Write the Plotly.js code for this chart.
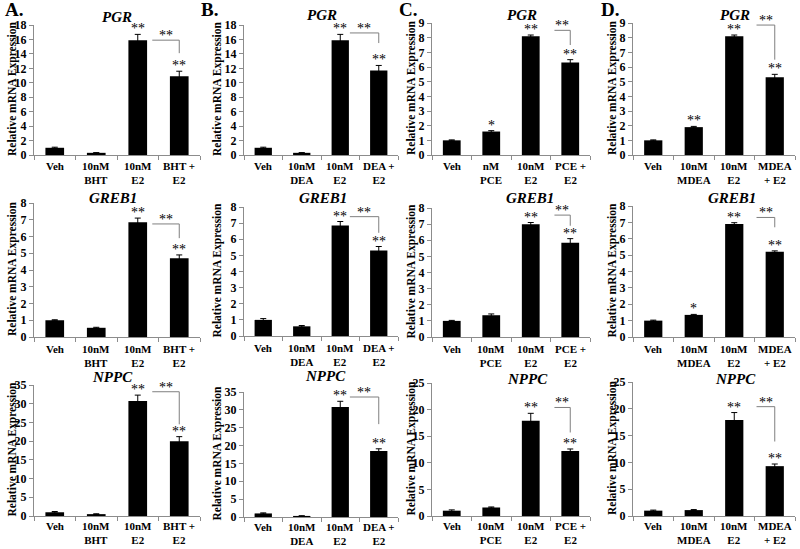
<!DOCTYPE html>
<html>
<head>
<meta charset="utf-8">
<script src="https://cdn.plot.ly/plotly-3.0.1.min.js"></script>
<style>html,body{margin:0;padding:0;background:#fff;}#chart{width:800px;height:549px;}</style>
</head>
<body>
<div id="chart"></div>
<script>
// ---------- DATA ----------
const genes = ['PGR', 'GREB1', 'NPPC'];
const panelLetters = ['A.', 'B.', 'C.', 'D.'];
const yAxisLabel = 'Relative mRNA Expression';

const catsA = ['Veh', '10nM<br>BHT', '10nM<br>E2', 'BHT +<br>E2'];
const catsB = ['Veh', '10nM<br>DEA', '10nM<br>E2', 'DEA +<br>E2'];
const catsC1 = ['Veh', 'nM<br>PCE', '10nM<br>E2', 'PCE +<br>E2'];
const catsC = ['Veh', '10nM<br>PCE', '10nM<br>E2', 'PCE +<br>E2'];
const catsD = ['Veh', '10nM<br>MDEA', '10nM<br>E2', 'MDEA<br>+ E2'];

const pgrA = [1.0, 0.3, 15.9, 10.9];    const pgrAErr = [0.08, 0.03, 0.8, 0.7];
const pgrB = [1.0, 0.3, 15.9, 11.7];    const pgrBErr = [0.08, 0.03, 0.8, 0.7];
const pgrC = [1.0, 1.6, 8.1, 6.3];      const pgrCErr = [0.03, 0.06, 0.08, 0.2];
const pgrD = [1.0, 1.9, 8.1, 5.3];      const pgrDErr = [0.03, 0.05, 0.08, 0.2];

const greb1A = [1.0, 0.55, 6.85, 4.7];  const greb1AErr = [0.03, 0.03, 0.25, 0.2];
const greb1B = [1.0, 0.6, 6.85, 5.3];   const greb1BErr = [0.08, 0.05, 0.25, 0.25];
const greb1C = [1.0, 1.35, 7.0, 5.85];  const greb1CErr = [0.03, 0.08, 0.1, 0.25];
const greb1D = [1.0, 1.35, 6.9, 5.2];   const greb1DErr = [0.03, 0.03, 0.08, 0.06];

const nppcA = [1.0, 0.5, 30.7, 20.0];   const nppcAErr = [0.2, 0.1, 1.6, 1.2];
const nppcB = [1.0, 0.3, 30.8, 18.5];   const nppcBErr = [0.15, 0.05, 1.6, 0.6];
const nppcC = [1.0, 1.6, 17.9, 12.2];   const nppcCErr = [0.15, 0.1, 1.4, 0.4];
const nppcD = [1.0, 1.1, 17.9, 9.3];    const nppcDErr = [0.1, 0.1, 1.4, 0.4];

// significance marks per bar
const starsStd = ['', '', '**', '**'];
const starsPgrC = ['', '*', '**', '**'];
const starsPgrD = ['', '**', '**', '**'];
const starsGreb1D = ['', '*', '**', '**'];

// bracket levels [top, bottom] (E2 vs combo comparison, "**")
const brPgrA = [15.9, 14.1], brPgrB = [16.9, 15.5], brPgrC = [8.5, 7.5], brPgrD = [8.86, 6.5];
const brGreb1A = [6.75, 5.9], brGreb1B = [7.4, 6.4], brGreb1C = [7.56, 6.9], brGreb1D = [7.3, 6.7];
const brNppcA = [33.2, 24.5], brNppcB = [33.6, 26.0], brNppcC = [20.4, 15.7], brNppcD = [20.4, 13.9];

// axis ranges
const ymaxPgrAB = 18, ymaxPgrCD = 9, ymaxGreb1 = 8, ymaxNppcAB = 35, ymaxNppcCD = 25;

// ---------- PANELS ----------
const panels = [
  [ {cats: catsA, v: pgrA, e: pgrAErr, s: starsStd, br: brPgrA, ymax: ymaxPgrAB, dt: 2},
    {cats: catsB, v: pgrB, e: pgrBErr, s: starsStd, br: brPgrB, ymax: ymaxPgrAB, dt: 2},
    {cats: catsC1, v: pgrC, e: pgrCErr, s: starsPgrC, br: brPgrC, ymax: ymaxPgrCD, dt: 1},
    {cats: catsD, v: pgrD, e: pgrDErr, s: starsPgrD, br: brPgrD, ymax: ymaxPgrCD, dt: 1} ],
  [ {cats: catsA, v: greb1A, e: greb1AErr, s: starsStd, br: brGreb1A, ymax: ymaxGreb1, dt: 1},
    {cats: catsB, v: greb1B, e: greb1BErr, s: starsStd, br: brGreb1B, ymax: ymaxGreb1, dt: 1},
    {cats: catsC, v: greb1C, e: greb1CErr, s: starsStd, br: brGreb1C, ymax: ymaxGreb1, dt: 1},
    {cats: catsD, v: greb1D, e: greb1DErr, s: starsGreb1D, br: brGreb1D, ymax: ymaxGreb1, dt: 1} ],
  [ {cats: catsA, v: nppcA, e: nppcAErr, s: starsStd, br: brNppcA, ymax: ymaxNppcAB, dt: 5},
    {cats: catsB, v: nppcB, e: nppcBErr, s: starsStd, br: brNppcB, ymax: ymaxNppcAB, dt: 5},
    {cats: catsC, v: nppcC, e: nppcCErr, s: starsStd, br: brNppcC, ymax: ymaxNppcCD, dt: 5},
    {cats: catsD, v: nppcD, e: nppcDErr, s: starsStd, br: brNppcD, ymax: ymaxNppcCD, dt: 5} ]
];

// ---------- GEOMETRY / STYLE (pixels) ----------
const W = 800, H = 549;
const fx = p => p / W, fy = p => 1 - p / H;
const colGeo = [
  {x0: 34, x1: 200, brStart: 2.35, ytX: 12, letterX: 3},
  {x0: 244, x1: 398, brStart: 2.25, ytX: 217, letterX: 199},
  {x0: 432, x1: 590, brStart: 2.6, ytX: 411, letterX: 397},
  {x0: 633, x1: 795, brStart: 2.55, ytX: 612, letterX: 599}
];
// per panel: [plot top, plot bottom, title x, title y]
const panelGeo = [
  [[25, 155, 117, 17], [25, 155, 322, 15], [23, 155, 522, 15], [23, 155, 735, 15]],
  [[203, 337, 113, 198], [207, 336, 323, 198], [208, 337, 530, 198], [206, 337, 732, 198]],
  [[385, 516, 112, 377], [392, 517, 325, 376], [383, 516, 527, 379], [382, 516, 735, 379]]
];
const labelGap = [4, 5, 3];   // px between axis line and top of the category label block
const SERIF = 'Liberation Serif, Times New Roman, serif';
const AXC = '#8c8c8c';

const traces = [];
const layout = {
  width: W, height: H, margin: {l: 0, r: 0, t: 0, b: 0},
  paper_bgcolor: '#fff', plot_bgcolor: '#fff', showlegend: false,
  annotations: [], shapes: [], bargap: 0.55
};

panels.forEach((row, r) => {
  row.forEach((p, c) => {
    const i = r * 4 + c + 1;
    const xa = 'x' + i, ya = 'y' + i;
    const xk = 'xaxis' + i, yk = 'yaxis' + i;
    const cg = colGeo[c];
    const [top, bot, tx, ty] = panelGeo[r][c];
    traces.push({
      type: 'bar', x: p.cats, y: p.v, xaxis: xa, yaxis: ya, width: 0.45,
      marker: {color: '#000'},
      error_y: {type: 'data', array: p.e, visible: true, color: '#000', thickness: 1, width: 3},
      hoverinfo: 'skip'
    });
    layout[xk] = {
      domain: [fx(cg.x0), fx(cg.x1)], anchor: ya, type: 'category',
      range: [-0.5, 3.5], showline: true, linecolor: AXC, linewidth: 1,
      ticks: 'outside', tickson: 'boundaries', ticklen: 4, tickcolor: AXC,
      showticklabels: false, showgrid: false, fixedrange: true, automargin: false
    };
    layout[yk] = {
      domain: [fy(bot), fy(top)], anchor: xa, range: [0, p.ymax], dtick: p.dt,
      showline: true, linecolor: AXC, linewidth: 1, ticks: 'outside', ticklen: 4,
      tickcolor: AXC, showgrid: false, zeroline: false, fixedrange: true, automargin: false,
      tickfont: {family: SERIF, size: 12, color: '#000', weight: 'bold'}
    };
    // category labels (two-line block under each category)
    p.cats.forEach((lab, j) => {
      layout.annotations.push({
        xref: xa, yref: 'paper', x: j, y: fy(bot + labelGap[r]),
        xanchor: 'center', yanchor: 'top', borderpad: 0, showarrow: false, text: lab,
        font: {family: SERIF, size: 11, color: '#000', weight: 'bold'}
      });
    });
    // gene title
    layout.annotations.push({
      xref: 'paper', yref: 'paper', x: fx(tx), y: fy(ty),
      xanchor: 'center', yanchor: 'middle', showarrow: false, text: genes[r],
      font: {family: SERIF, size: 15, color: '#000', weight: 'bold', style: 'italic'}
    });
    // y-axis title
    layout.annotations.push({
      xref: 'paper', yref: 'paper', x: fx(cg.ytX), y: fy((top + bot) / 2 - 1),
      xanchor: 'center', yanchor: 'middle', showarrow: false, textangle: -90,
      text: yAxisLabel, font: {family: SERIF, size: 11.5, color: '#000', weight: 'bold'}
    });
    // stars above bars
    p.s.forEach((st, j) => {
      if (!st) return;
      layout.annotations.push({
        xref: xa, yref: ya, x: j, y: p.v[j] + p.e[j], xanchor: 'center', yanchor: 'bottom',
        yshift: -4, showarrow: false, text: st,
        font: {family: SERIF, size: 14, color: '#000'}
      });
    });
    // bracket
    const [bt, bb] = p.br;
    layout.shapes.push({
      type: 'path', xref: xa, yref: ya,
      path: `M ${cg.brStart} ${bt} L 3 ${bt} L 3 ${bb}`,
      line: {color: '#7f7f7f', width: 1}
    });
    layout.annotations.push({
      xref: xa, yref: ya, x: (cg.brStart + 3) / 2, y: bt, xanchor: 'center', yanchor: 'bottom',
      yshift: -5, showarrow: false, text: '**',
      font: {family: SERIF, size: 14, color: '#000'}
    });
  });
});

// panel letters
panelLetters.forEach((L, c) => {
  layout.annotations.push({
    xref: 'paper', yref: 'paper', x: fx(colGeo[c].letterX), y: fy(9),
    xanchor: 'left', yanchor: 'middle', showarrow: false, text: L,
    font: {family: SERIF, size: 19, color: '#000', weight: 'bold'}
  });
});

Plotly.newPlot('chart', traces, layout, {displayModeBar: false, staticPlot: true});
</script>
</body>
</html>
